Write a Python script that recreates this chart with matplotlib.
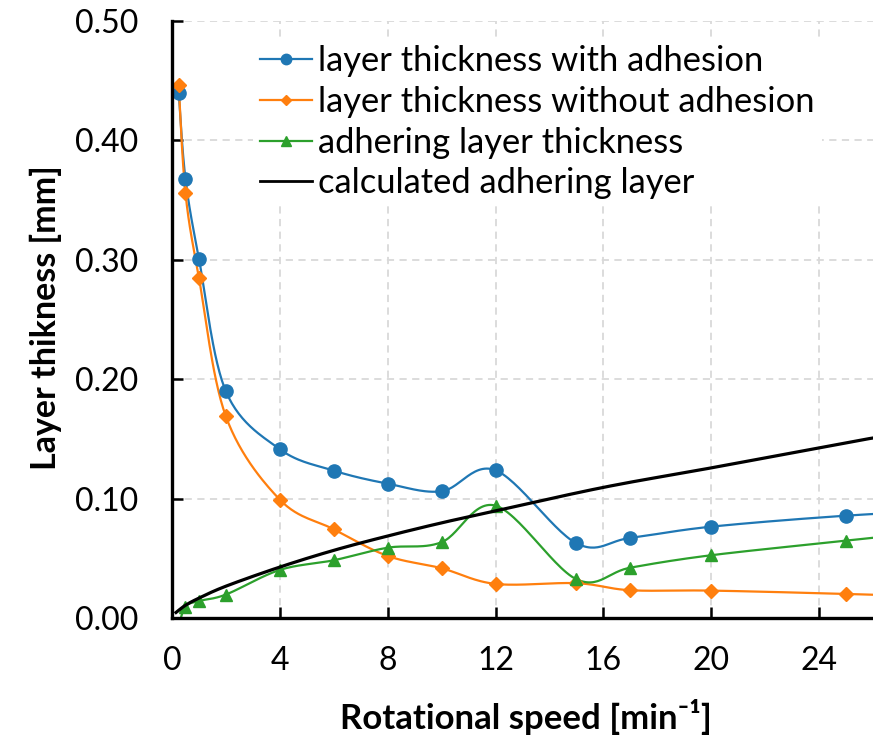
import numpy as np
import matplotlib
matplotlib.use("Agg")
import matplotlib.pyplot as plt
from matplotlib.lines import Line2D

plt.rcParams['font.family'] = ['Lato', 'DejaVu Sans']

# ---- data ----
speed = [0.25, 0.5, 1, 2, 4, 6, 8, 10, 12, 15, 17, 20, 25, 30]
with_adhesion = [0.440, 0.368, 0.301, 0.190, 0.1416, 0.1237, 0.1128, 0.1064, 0.124,
                 0.0629, 0.0674, 0.0768, 0.086, 0.092]
without_adhesion = [0.446, 0.356, 0.285, 0.169, 0.0994, 0.0746, 0.0523, 0.042, 0.0289,
                    0.0295, 0.0236, 0.0233, 0.0205, 0.017]
adhering = [-0.006, 0.0099, 0.0146, 0.020, 0.0406, 0.0487, 0.0592, 0.0638, 0.0944,
            0.0328, 0.0425, 0.0529, 0.0651, 0.077]
calc_speed = [0.15, 0.5, 1, 2, 4, 6, 8, 10, 12, 15, 17, 20, 25, 26]
calc_layer = [0.005, 0.011, 0.017, 0.027, 0.043, 0.057, 0.069, 0.080, 0.090,
              0.105, 0.114, 0.126, 0.147, 0.151]

labels = ["layer thickness with adhesion", "layer thickness without adhesion",
          "adhering layer thickness", "calculated adhering layer"]
xticks = [0, 4, 8, 12, 16, 20, 24]
yticks = [0.0, 0.1, 0.2, 0.3, 0.4, 0.5]


def smooth(x, y, n=30):
    """Catmull-Rom (Excel-like) smoothing through the points, parametric."""
    P = np.column_stack([x, y]).astype(float)
    P = np.vstack([P[0], P, P[-1]])
    out = []
    for i in range(1, len(P) - 2):
        p0, p1, p2, p3 = P[i - 1], P[i], P[i + 1], P[i + 2]
        c1 = p1 + (p2 - p0) / 6.0
        c2 = p2 - (p3 - p1) / 6.0
        t = np.linspace(0, 1, n)[:, None]
        b = ((1 - t) ** 3) * p1 + 3 * ((1 - t) ** 2) * t * c1 + 3 * (1 - t) * t ** 2 * c2 + t ** 3 * p2
        out.append(b if i == 1 else b[1:])
    B = np.vstack(out)
    return B[:, 0], B[:, 1]


fig = plt.figure(figsize=(8.73, 7.38), dpi=100)
ax = fig.add_axes([0.197, 0.162, 0.803, 0.8096])

blue, orange, green = '#1f77b4', '#ff7f0e', '#2ca02c'
lw = 1.6
series = [
    (with_adhesion, blue, 'o', 9.5),
    (without_adhesion, orange, 'D', 7.0),
    (adhering, green, '^', 9.0),
]
for vals, col, mk, ms in series:
    sx, sy = smooth(speed, vals)
    ax.plot(sx, sy, color=col, lw=lw, zorder=3)
    ax.plot(speed, vals, ls='none', marker=mk, ms=ms, color=col, zorder=4)

cx, cy = smooth(calc_speed, calc_layer)
ax.plot(cx, cy, color='black', lw=2.3, zorder=5)

ax.set_xlim(0, 26)
ax.set_ylim(0, 0.5)
ax.set_xticks(xticks)
ax.set_yticks(yticks)
ax.set_xticklabels([str(v) for v in xticks])
ax.set_yticklabels([f"{v:.2f}" for v in yticks])
ax.tick_params(axis='both', direction='in', length=8, width=1.8, labelsize=23, color='black')
ax.tick_params(axis='y', pad=24)
ax.tick_params(axis='x', pad=20)

ax.grid(True, color='#d9d9d9', ls=(0, (4, 3)), lw=1.3, zorder=0)
ax.set_axisbelow(True)
for s in ['top', 'right']:
    ax.spines[s].set_visible(False)
for s in ['left', 'bottom']:
    ax.spines[s].set_linewidth(2.4)
    ax.spines[s].set_zorder(6)

handles = [
    Line2D([], [], color=blue, lw=lw, marker='o', ms=7.5),
    Line2D([], [], color=orange, lw=lw, marker='D', ms=5.5),
    Line2D([], [], color=green, lw=lw, marker='^', ms=7.5),
    Line2D([], [], color='black', lw=2.0),
]
leg = fig.legend(handles, labels, loc='upper left', bbox_to_anchor=(0.2898, 0.9478),
                 bbox_transform=fig.transFigure,
                 frameon=True, fontsize=24.8, handlelength=1.5, handletextpad=0.2,
                 labelspacing=0.25, borderpad=0.2, borderaxespad=0.0)
leg.get_frame().set_facecolor('white')
leg.get_frame().set_edgecolor('none')
leg.get_frame().set_alpha(1)
leg.set_zorder(10)

fig.text(0.052, 0.569, "Layer thikness [mm]", rotation=90, ha='center', va='center',
         fontsize=24.5, fontweight='bold')
fig.text(0.602, 0.028, "Rotational speed [min\u207b\u00b9]", ha='center', va='center',
         fontsize=25, fontweight='bold')

fig.savefig("out.png", dpi=100)
